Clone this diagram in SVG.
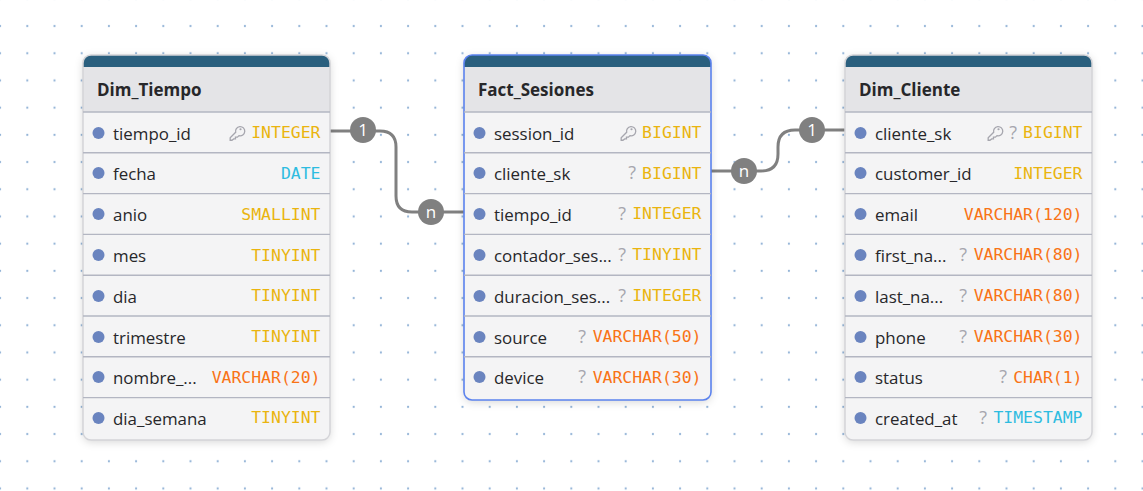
<svg xmlns="http://www.w3.org/2000/svg" width="1143" height="491" viewBox="0 0 1143 491">
<defs>
<pattern id="dots" width="27.2" height="27.2" patternUnits="userSpaceOnUse" x="-13.5" y="-14.7"><circle cx="13.6" cy="13.6" r="1.1" fill="#91b2d6"/></pattern>
<filter id="sh" x="-10%" y="-10%" width="120%" height="120%"><feDropShadow dx="0" dy="2" stdDeviation="4" flood-color="#000" flood-opacity="0.16"/></filter>
<clipPath id="cp"><rect width="247" height="385" rx="8"/></clipPath>
<g id="key" transform="scale(1.1)"><path d="M-4.6 6.6l-1.6 0l0-2.2l5-5a4.2 4.2 0 1 1 3 3l-1.4 1.4l-1.8 0l0 1.6l-1.6 0z" fill="none" stroke="#a6a6ae" stroke-width="1.2"/><circle cx="3.2" cy="-3.4" r="1" fill="#a6a6ae"/></g>
</defs>
<style>
.bg{fill:#f4f4f5}.hd{fill:#e4e4e7}.st{fill:#2a5f7e}
.bd{fill:none;stroke:#d4d4d8;stroke-width:1.5}
.sel{fill:none;stroke:#5b82ee;stroke-width:1.6}
.ln{stroke:#b3b6c2;stroke-width:1.4}
.dot{fill:#6a84bf}
.t{font-family:"Open Sans","Noto Sans",sans-serif;font-size:16.9px;fill:#27272a}
.h{font-family:"Open Sans","Noto Sans",sans-serif;font-size:17px;font-weight:700;fill:#27272a}
.m{font-family:"DejaVu Sans Mono",monospace;font-size:16.45px;text-anchor:end}
.q{font-family:"Open Sans","Noto Sans",sans-serif;font-size:18px;fill:#a6a6ae;text-anchor:end}
.y{fill:#eab40f}.o{fill:#f97316}.c{fill:#2ebce0}
.w{fill:none;stroke:#808080;stroke-width:3}
.b{fill:#808080}
.l{font-family:"Open Sans","Noto Sans",sans-serif;font-size:17px;fill:#fff;text-anchor:middle}
</style>
<rect width="1143" height="491" fill="#fff"/>
<rect width="1143" height="491" fill="url(#dots)"/>

<g id="connectors">
<path class="w" d="M330 131H380Q396 131 396 147V196Q396 212 412 212H464"/>
<circle class="b" cx="363" cy="130" r="13"/><text class="l" x="363" y="136">1</text>
<circle class="b" cx="431" cy="212" r="13"/><text class="l" x="431" y="218">n</text>
<path class="w" d="M711 171H761Q778 171 778 154V147Q778 130 795 130H845"/>
<circle class="b" cx="744" cy="171" r="13"/><text class="l" x="744" y="177">n</text>
<circle class="b" cx="812" cy="130" r="13"/><text class="l" x="812" y="136">1</text>
</g>

<g id="Dim_Tiempo" transform="translate(83 55)">
<rect class="bg" width="247" height="385" rx="8" filter="url(#sh)"/>
<g clip-path="url(#cp)"><rect class="hd" y="12" width="247" height="45"/><rect class="st" width="247" height="12"/></g>
<rect class="bd" width="247" height="385" rx="8"/>
<text class="h" x="14" y="41">Dim_Tiempo</text>
<g class="ln"><path d="M0 57H247M0 97.800H247M0 138.600H247M0 179.400H247M0 220.200H247M0 261H247M0 301.800H247M0 342.600H247"/></g>
<circle class="dot" cx="15.500" cy="78" r="6"/><text class="t" x="30" y="85">tiempo_id</text><use href="#key" x="154" y="78"/><text class="m y" x="237.500" y="83">INTEGER</text>
<circle class="dot" cx="15.500" cy="118" r="6"/><text class="t" x="30" y="125">fecha</text><text class="m c" x="237.500" y="124">DATE</text>
<circle class="dot" cx="15.500" cy="159" r="6"/><text class="t" x="30" y="166">anio</text><text class="m y" x="237.500" y="165">SMALLINT</text>
<circle class="dot" cx="15.500" cy="200" r="6"/><text class="t" x="30" y="207">mes</text><text class="m y" x="237.500" y="206">TINYINT</text>
<circle class="dot" cx="15.500" cy="241" r="6"/><text class="t" x="30" y="248">dia</text><text class="m y" x="237.500" y="246">TINYINT</text>
<circle class="dot" cx="15.500" cy="282" r="6"/><text class="t" x="30" y="289">trimestre</text><text class="m y" x="237.500" y="287">TINYINT</text>
<circle class="dot" cx="15.500" cy="322" r="6"/><text class="t" x="30" y="329">nombre_...</text><text class="m o" x="237.500" y="328">VARCHAR(20)</text>
<circle class="dot" cx="15.500" cy="363" r="6"/><text class="t" x="30" y="370">dia_semana</text><text class="m y" x="237.500" y="368">TINYINT</text>
</g>

<g id="Fact_Sesiones" transform="translate(464 55)">
<rect class="bg" width="247" height="345" rx="8" filter="url(#sh)"/>
<g clip-path="url(#cp)"><rect class="hd" y="12" width="247" height="45"/><rect class="st" width="247" height="12"/></g>
<rect class="sel" width="247" height="345" rx="8"/>
<text class="h" x="14" y="41">Fact_Sesiones</text>
<g class="ln"><path d="M0 57H247M0 97.800H247M0 138.600H247M0 179.400H247M0 220.200H247M0 261H247M0 301.800H247"/></g>
<circle class="dot" cx="15.500" cy="78" r="6"/><text class="t" x="30" y="85">session_id</text><use href="#key" x="164" y="78"/><text class="m y" x="237.500" y="83">BIGINT</text>
<circle class="dot" cx="15.500" cy="118" r="6"/><text class="t" x="30" y="125">cliente_sk</text><text class="q" x="172" y="124">?</text><text class="m y" x="237.500" y="124">BIGINT</text>
<circle class="dot" cx="15.500" cy="159" r="6"/><text class="t" x="30" y="166">tiempo_id</text><text class="q" x="162" y="165">?</text><text class="m y" x="237.500" y="164">INTEGER</text>
<circle class="dot" cx="15.500" cy="200" r="6"/><text class="t" x="30" y="207">contador_ses...</text><text class="q" x="162" y="206">?</text><text class="m y" x="237.500" y="205">TINYINT</text>
<circle class="dot" cx="15.500" cy="241" r="6"/><text class="t" x="30" y="248">duracion_ses...</text><text class="q" x="162" y="247">?</text><text class="m y" x="237.500" y="246">INTEGER</text>
<circle class="dot" cx="15.500" cy="282" r="6"/><text class="t" x="30" y="289">source</text><text class="q" x="122" y="288">?</text><text class="m o" x="237.500" y="287">VARCHAR(50)</text>
<circle class="dot" cx="15.500" cy="322" r="6"/><text class="t" x="30" y="329">device</text><text class="q" x="122" y="328">?</text><text class="m o" x="237.500" y="328">VARCHAR(30)</text>
</g>

<g id="Dim_Cliente" transform="translate(845 55)">
<rect class="bg" width="247" height="385" rx="8" filter="url(#sh)"/>
<g clip-path="url(#cp)"><rect class="hd" y="12" width="247" height="45"/><rect class="st" width="247" height="12"/></g>
<rect class="bd" width="247" height="385" rx="8"/>
<text class="h" x="14" y="41">Dim_Cliente</text>
<g class="ln"><path d="M0 57H247M0 97.800H247M0 138.600H247M0 179.400H247M0 220.200H247M0 261H247M0 301.800H247M0 342.600H247"/></g>
<circle class="dot" cx="15.500" cy="78" r="6"/><text class="t" x="30" y="85">cliente_sk</text><use href="#key" x="150" y="78"/><text class="q" x="172" y="84">?</text><text class="m y" x="237.500" y="83">BIGINT</text>
<circle class="dot" cx="15.500" cy="118" r="6"/><text class="t" x="30" y="125">customer_id</text><text class="m y" x="237.500" y="124">INTEGER</text>
<circle class="dot" cx="15.500" cy="159" r="6"/><text class="t" x="30" y="166">email</text><text class="m o" x="237.500" y="165">VARCHAR(120)</text>
<circle class="dot" cx="15.500" cy="200" r="6"/><text class="t" x="30" y="207">first_na...</text><text class="q" x="122" y="206">?</text><text class="m o" x="237.500" y="205">VARCHAR(80)</text>
<circle class="dot" cx="15.500" cy="241" r="6"/><text class="t" x="30" y="248">last_na...</text><text class="q" x="122" y="247">?</text><text class="m o" x="237.500" y="246">VARCHAR(80)</text>
<circle class="dot" cx="15.500" cy="282" r="6"/><text class="t" x="30" y="289">phone</text><text class="q" x="122" y="288">?</text><text class="m o" x="237.500" y="287">VARCHAR(30)</text>
<circle class="dot" cx="15.500" cy="322" r="6"/><text class="t" x="30" y="329">status</text><text class="q" x="162" y="328">?</text><text class="m o" x="237.500" y="328">CHAR(1)</text>
<circle class="dot" cx="15.500" cy="363" r="6"/><text class="t" x="30" y="370">created_at</text><text class="q" x="142" y="369">?</text><text class="m c" x="237.500" y="368">TIMESTAMP</text>
</g>
</svg>
